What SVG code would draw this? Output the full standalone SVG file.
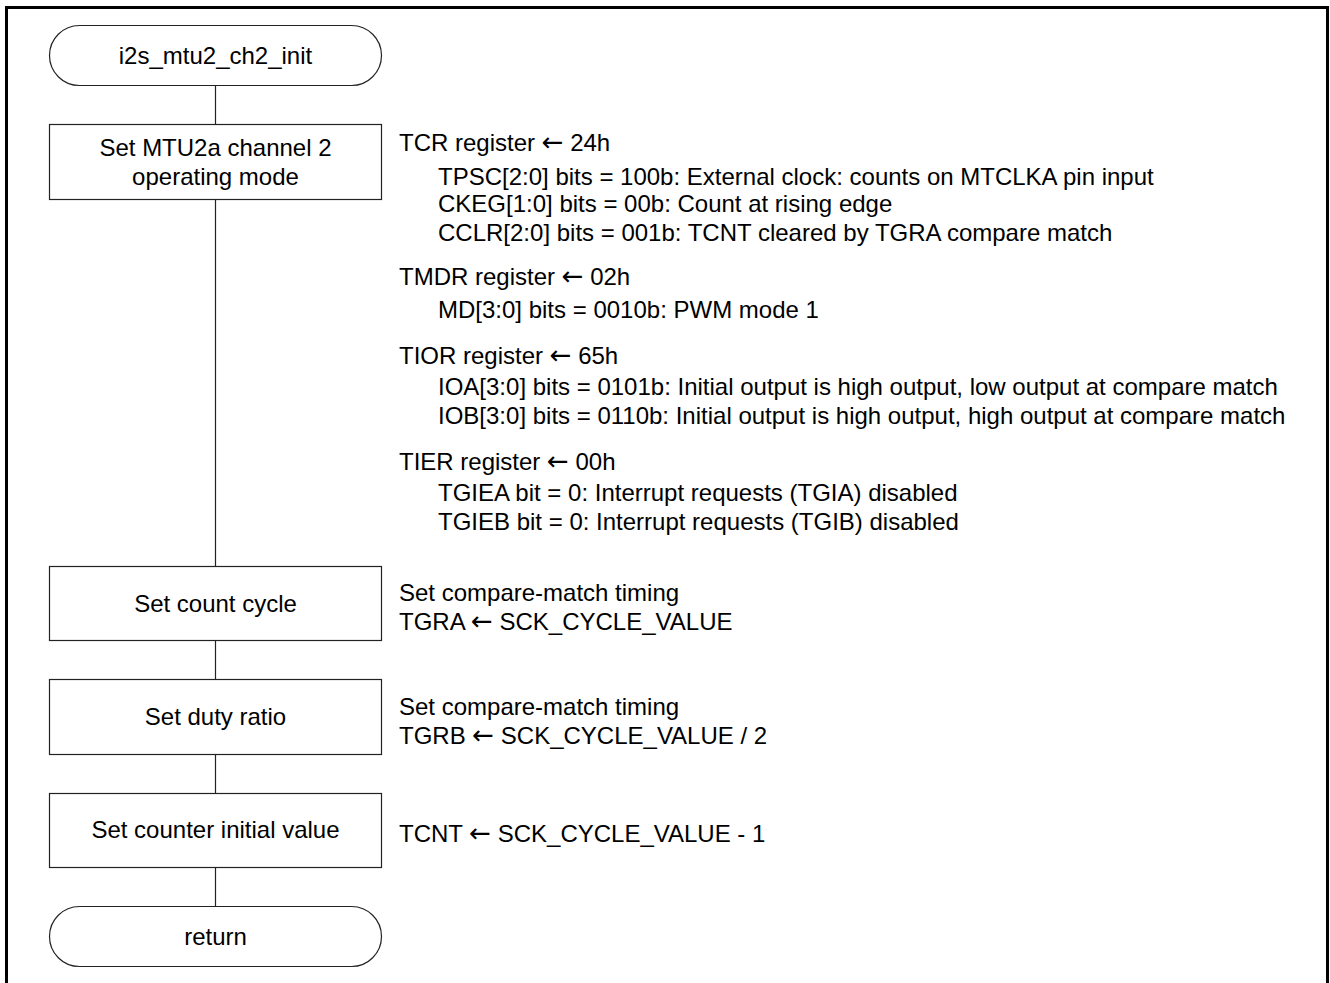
<svg xmlns="http://www.w3.org/2000/svg" width="1330" height="983" viewBox="0 0 1330 983">
<style>
.shape{fill:#fff;stroke:#222;stroke-width:1.2}
.conn{stroke:#222;stroke-width:1.2;fill:none}
text{font-family:"Liberation Sans",Arial,sans-serif;font-size:24px;fill:#000}
.c{text-anchor:middle}
.ar{font-family:"DejaVu Sans",sans-serif;font-size:26px}
</style>
<rect width="1330" height="983" fill="#fff"/>
<path d="M6.5 983 V7.5 H1327.5 V983" fill="none" stroke="#000" stroke-width="3"/>
<g id="connectors">
<line class="conn" x1="215.5" y1="86" x2="215.5" y2="124"/>
<line class="conn" x1="215.5" y1="200" x2="215.5" y2="566"/>
<line class="conn" x1="215.5" y1="641" x2="215.5" y2="679"/>
<line class="conn" x1="215.5" y1="755" x2="215.5" y2="793"/>
<line class="conn" x1="215.5" y1="868" x2="215.5" y2="906"/>
</g>
<g id="start">
<rect class="shape" x="49.5" y="25.5" width="332" height="60" rx="30" ry="30"/>
<text class="c" x="215.5" y="64">i2s_mtu2_ch2_init</text>
</g>
<g id="set-mode">
<rect class="shape" x="49.5" y="124.5" width="332" height="75"/>
<text class="c" x="215.5" y="156">Set MTU2a channel 2</text>
<text class="c" x="215.5" y="185">operating mode</text>
</g>
<g id="set-mode-note">
<text x="399" y="151">TCR register <tspan class="ar">←</tspan> 24h</text>
<text x="438" y="185">TPSC[2:0] bits = 100b: External clock: counts on MTCLKA pin input</text>
<text x="438" y="212">CKEG[1:0] bits = 00b: Count at rising edge</text>
<text x="438" y="241">CCLR[2:0] bits = 001b: TCNT cleared by TGRA compare match</text>
<text x="399" y="285">TMDR register <tspan class="ar">←</tspan> 02h</text>
<text x="438" y="318">MD[3:0] bits = 0010b: PWM mode 1</text>
<text x="399" y="364">TIOR register <tspan class="ar">←</tspan> 65h</text>
<text x="438" y="395">IOA[3:0] bits = 0101b: Initial output is high output, low output at compare match</text>
<text x="438" y="424">IOB[3:0] bits = 0110b: Initial output is high output, high output at compare match</text>
<text x="399" y="470">TIER register <tspan class="ar">←</tspan> 00h</text>
<text x="438" y="501">TGIEA bit = 0: Interrupt requests (TGIA) disabled</text>
<text x="438" y="530">TGIEB bit = 0: Interrupt requests (TGIB) disabled</text>
</g>
<g id="count-cycle">
<rect class="shape" x="49.5" y="566.5" width="332" height="74"/>
<text class="c" x="215.5" y="612">Set count cycle</text>
<text x="399" y="601">Set compare-match timing</text>
<text x="399" y="630">TGRA <tspan class="ar">←</tspan> SCK_CYCLE_VALUE</text>
</g>
<g id="duty-ratio">
<rect class="shape" x="49.5" y="679.5" width="332" height="75"/>
<text class="c" x="215.5" y="725">Set duty ratio</text>
<text x="399" y="715">Set compare-match timing</text>
<text x="399" y="744">TGRB <tspan class="ar">←</tspan> SCK_CYCLE_VALUE / 2</text>
</g>
<g id="counter-init">
<rect class="shape" x="49.5" y="793.5" width="332" height="74"/>
<text class="c" x="215.5" y="838">Set counter initial value</text>
<text x="399" y="842">TCNT <tspan class="ar">←</tspan> SCK_CYCLE_VALUE - 1</text>
</g>
<g id="return">
<rect class="shape" x="49.5" y="906.5" width="332" height="60" rx="30" ry="30"/>
<text class="c" x="215.5" y="945">return</text>
</g>
</svg>
